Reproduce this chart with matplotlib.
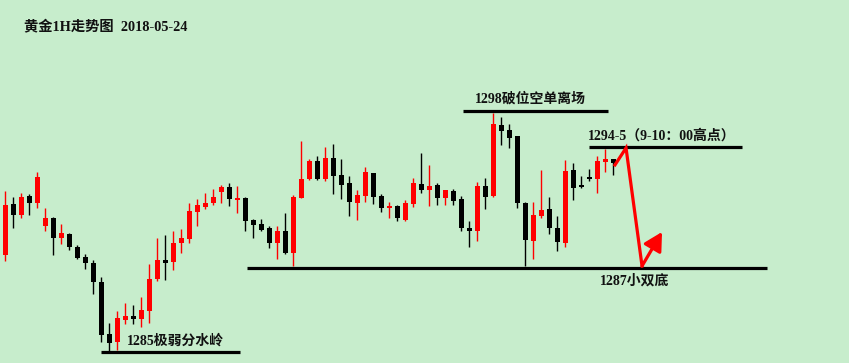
import numpy as np
import matplotlib.pyplot as plt

plt.rcParams['font.family'] = ['Liberation Serif', 'Noto Sans CJK SC', 'DejaVu Sans']

# 1小时K线 (开, 高, 低, 收)
opens = [1287.86, 1291.50, 1290.71, 1292.07, 1291.57, 1289.93, 1290.50, 1289.07, 1289.36, 1288.43,
         1287.71, 1287.29, 1285.93, 1282.21, 1281.64, 1283.21, 1283.50, 1283.29, 1283.86, 1286.14,
         1287.50, 1287.36, 1288.71, 1289.00, 1290.93, 1291.29, 1291.57, 1292.36, 1292.71, 1291.79,
         1291.93, 1290.36, 1290.07, 1289.79, 1288.71, 1289.57, 1288.00, 1291.93, 1293.29, 1294.57,
         1293.29, 1294.79, 1293.57, 1293.00, 1291.57, 1292.07, 1293.71, 1292.07, 1291.21, 1291.36,
         1290.36, 1291.50, 1292.93, 1292.50, 1292.86, 1291.93, 1292.43, 1291.86, 1289.79, 1289.57,
         1292.79, 1292.07, 1297.14, 1296.79, 1296.36, 1291.57, 1288.86, 1290.64, 1291.14, 1289.79,
         1288.71, 1293.93, 1292.86, 1293.43, 1293.29, 1294.50, 1294.71]
highs = [1292.43, 1292.00, 1292.29, 1292.21, 1293.79, 1291.21, 1290.57, 1290.07, 1289.43, 1288.57,
         1287.93, 1287.50, 1286.29, 1283.00, 1283.86, 1284.43, 1284.29, 1284.86, 1287.21, 1289.07,
         1289.29, 1289.57, 1289.71, 1291.57, 1291.86, 1292.29, 1292.57, 1292.86, 1293.00, 1292.79,
         1292.00, 1290.43, 1290.43, 1289.93, 1289.93, 1290.86, 1292.14, 1296.00, 1294.71, 1294.93,
         1295.57, 1295.79, 1294.71, 1293.50, 1292.50, 1294.14, 1293.71, 1292.21, 1291.64, 1291.43,
         1291.79, 1293.36, 1295.14, 1294.29, 1293.00, 1292.50, 1292.57, 1292.07, 1290.29, 1293.07,
         1293.36, 1298.00, 1297.71, 1297.21, 1296.36, 1291.64, 1291.64, 1293.93, 1292.00, 1290.64,
         1294.64, 1294.43, 1293.50, 1294.00, 1294.93, 1295.43, 1294.71]
lows = [1287.43, 1289.79, 1290.50, 1290.71, 1291.21, 1289.57, 1287.86, 1288.64, 1288.21, 1287.57,
        1286.86, 1285.07, 1281.64, 1280.93, 1281.07, 1282.93, 1282.93, 1282.71, 1283.00, 1286.00,
        1286.07, 1286.79, 1288.00, 1288.71, 1289.93, 1291.14, 1291.43, 1291.57, 1291.36, 1290.86,
        1289.57, 1289.07, 1289.57, 1288.36, 1287.57, 1287.93, 1287.07, 1291.93, 1293.21, 1293.21,
        1293.14, 1292.21, 1291.86, 1290.64, 1290.36, 1291.64, 1291.50, 1290.93, 1290.50, 1290.29,
        1290.29, 1291.29, 1292.29, 1291.36, 1291.43, 1291.43, 1291.43, 1289.57, 1288.43, 1288.86,
        1291.14, 1292.00, 1295.71, 1295.50, 1291.21, 1287.07, 1287.57, 1290.50, 1289.36, 1288.14,
        1288.43, 1291.79, 1292.64, 1293.14, 1292.29, 1293.79, 1293.57]
closes = [1291.43, 1290.71, 1292.00, 1291.57, 1293.43, 1290.50, 1289.07, 1289.43, 1288.43, 1287.64,
          1287.29, 1285.93, 1282.14, 1281.57, 1283.36, 1283.50, 1283.29, 1283.93, 1286.14, 1287.50,
          1287.29, 1288.71, 1289.07, 1291.00, 1291.43, 1291.57, 1292.00, 1292.71, 1291.86, 1291.86,
          1290.29, 1290.00, 1289.64, 1288.71, 1289.57, 1288.00, 1292.00, 1293.29, 1294.57, 1293.29,
          1294.79, 1293.50, 1292.86, 1291.64, 1292.14, 1293.79, 1292.00, 1291.21, 1291.36, 1290.50,
          1291.57, 1293.00, 1292.50, 1292.79, 1291.93, 1292.50, 1291.71, 1289.79, 1289.57, 1292.79,
          1292.00, 1297.21, 1296.71, 1296.21, 1291.57, 1288.93, 1290.71, 1291.07, 1289.79, 1288.79,
          1293.86, 1292.64, 1292.71, 1293.29, 1294.57, 1294.71, 1294.43]

# 标注水平线: (价位, 起点K线, 终点K线)
level_weak = (1280.93, 11.96, 29.34)
level_bottom = (1286.96, 30.21, 95.21)
level_stop = (1298.11, 57.21, 75.34)
level_high = (1295.54, 72.96, 92.09)

labels = ['1285极弱分水岭', '1287小双底', '1298破位空单离场', '1294-5（9-10：00高点）']
label_pos = [(15.2, 1281.71), (74.3, 1286.0), (58.7, 1299.0), (72.8, 1296.36)]

# 预期走势 (K线位置, 价位)
path_x = [76.21, 77.59, 79.59, 82.09]
path_y = [1294.29, 1295.50, 1287.07, 1289.50]

bg = '#c7edcc'
fig = plt.figure(figsize=(8.49, 3.63), dpi=100, facecolor=bg)
ax = fig.add_axes([0, 0, 1, 1])
ax.set_facecolor(bg)
ax.axis('off')

o = np.array(opens)
h = np.array(highs)
l = np.array(lows)
c = np.array(closes)
idx = np.arange(len(o))
colors = np.where(c >= o, '#ff0000', '#000000')

ax.vlines(idx, l, h, colors=colors, linewidth=1.0)
height = np.maximum(np.abs(c - o), 0.12)
ax.bar(idx, height, bottom=np.minimum(o, c), width=0.62, color=colors, linewidth=0)

for lev, x0, x1 in [level_weak, level_bottom, level_stop, level_high]:
    ax.plot([x0, x1], [lev, lev], color='black', linewidth=2.3, solid_capstyle='butt')

for txt, (tx, ty) in zip(labels, label_pos):
    ax.text(tx, ty, txt, fontsize=10, fontweight='bold', color='#111111', ha='left', va='center')

ax.plot(path_x[:3], path_y[:3], color='#ff0000', linewidth=2.3, solid_joinstyle='miter')
ax.annotate('', xy=(path_x[3], path_y[3]), xytext=(path_x[2], path_y[2]),
            arrowprops=dict(arrowstyle='-|>,head_length=1.1,head_width=0.6',
                            color='#ff0000', lw=2.3, shrinkA=0, shrinkB=0))

fig.text(24 / 849, 1 - 27 / 363, '黄金1H走势图  2018-05-24', fontsize=10.3, fontweight='bold',
         color='#111111', ha='left', va='center')

ax.set_xlim(-0.66, 105.46)
ax.set_ylim(1280.14, 1306.07)

fig.savefig('out.png', dpi=100, facecolor=bg)
